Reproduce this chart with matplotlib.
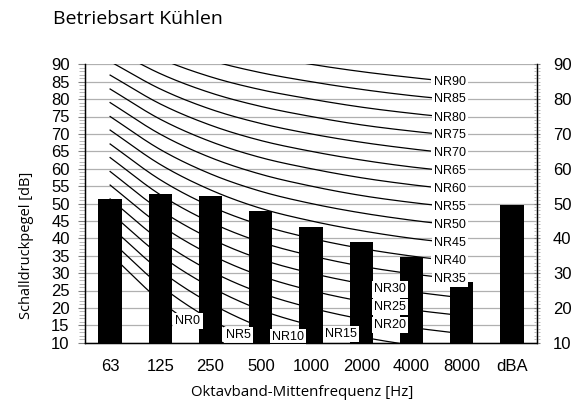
import numpy as np
import matplotlib
matplotlib.use("Agg")
import matplotlib.pyplot as plt
from matplotlib.ticker import MultipleLocator

# ---- data ----
categories = ["63", "125", "250", "500", "1000", "2000", "4000", "8000", "dBA"]
levels = [51.2, 52.7, 52.2, 47.8, 43.3, 38.8, 34.7, 27.4, 49.5]

nr_names = ["NR0", "NR5", "NR10", "NR15", "NR20", "NR25", "NR30", "NR35", "NR40",
            "NR45", "NR50", "NR55", "NR60", "NR65", "NR70", "NR75", "NR80", "NR85", "NR90"]
# NR curve values at 63 ... 8000 Hz
nr0 = [35.5, 22.0, 12.0, 4.8, 0.0, -3.5, -6.1, -8.0]
nr5 = [39.5, 26.4, 16.7, 9.7, 5.0, 1.6, -1.0, -2.9]
nr10 = [43.4, 30.7, 21.3, 14.5, 10.0, 6.7, 4.2, 2.3]
nr15 = [47.4, 35.1, 26.0, 19.4, 15.0, 11.7, 9.3, 7.5]
nr20 = [51.3, 39.4, 30.6, 24.3, 20.0, 16.8, 14.4, 12.6]
nr25 = [55.3, 43.8, 35.3, 29.2, 25.0, 21.9, 19.5, 17.8]
nr30 = [59.2, 48.1, 39.9, 34.0, 30.0, 27.0, 24.7, 22.9]
nr35 = [63.2, 52.5, 44.6, 38.9, 35.0, 32.0, 29.8, 28.1]
nr40 = [67.1, 56.8, 49.2, 43.8, 40.0, 37.1, 34.9, 33.2]
nr45 = [71.1, 61.2, 53.9, 48.6, 45.0, 42.2, 40.0, 38.4]
nr50 = [75.0, 65.5, 58.5, 53.5, 50.0, 47.3, 45.2, 43.5]
nr55 = [79.0, 69.9, 63.2, 58.4, 55.0, 52.3, 50.3, 48.7]
nr60 = [82.9, 74.2, 67.8, 63.2, 60.0, 57.4, 55.4, 53.8]
nr65 = [86.9, 78.6, 72.5, 68.1, 65.0, 62.5, 60.5, 59.0]
nr70 = [90.8, 82.9, 77.1, 73.0, 70.0, 67.6, 65.7, 64.1]
nr75 = [94.8, 87.3, 81.8, 77.9, 75.0, 72.6, 70.8, 69.3]
nr80 = [98.7, 91.6, 86.4, 82.7, 80.0, 77.7, 75.9, 74.4]
nr85 = [102.7, 96.0, 91.1, 87.6, 85.0, 82.8, 81.0, 79.6]
nr90 = [106.6, 100.3, 95.7, 92.5, 90.0, 87.9, 86.2, 84.7]
nr_curves = [nr0, nr5, nr10, nr15, nr20, nr25, nr30, nr35, nr40, nr45,
             nr50, nr55, nr60, nr65, nr70, nr75, nr80, nr85, nr90]

# label anchor positions (x index, y value) for the labels that sit low in the plot
low_label_pos = {"NR0": (1.55, 16.3), "NR5": (2.56, 12.2), "NR10": (3.54, 11.7),
                 "NR15": (4.59, 12.5), "NR20": (5.58, 15.0), "NR25": (5.58, 20.3),
                 "NR30": (5.58, 25.3)}

title = "Betriebsart Kühlen"
xlabel = "Oktavband-Mittenfrequenz [Hz]"
ylabel = "Schalldruckpegel [dB]"


def smooth(xs, ys, n=30):
    """Catmull-Rom rendering of a polyline (Excel-style smoothed line)."""
    xs = np.asarray(xs, float)
    ys = np.asarray(ys, float)
    px = np.concatenate([[2 * xs[0] - xs[1]], xs, [2 * xs[-1] - xs[-2]]])
    py = np.concatenate([[2 * ys[0] - ys[1]], ys, [2 * ys[-1] - ys[-2]]])
    ox, oy = [], []
    t = np.linspace(0, 1, n, endpoint=False)
    for i in range(1, len(px) - 2):
        p0, p1, p2, p3 = (np.array([px[j], py[j]]) for j in (i - 1, i, i + 1, i + 2))
        b1 = p1 + (p2 - p0) / 6
        b2 = p2 - (p3 - p1) / 6
        pts = ((1 - t)[:, None] ** 3 * p1 + 3 * (1 - t)[:, None] ** 2 * t[:, None] * b1
               + 3 * (1 - t)[:, None] * t[:, None] ** 2 * b2 + t[:, None] ** 3 * p2)
        ox.extend(pts[:, 0]); oy.extend(pts[:, 1])
    ox.append(xs[-1]); oy.append(ys[-1])
    return np.array(ox), np.array(oy)


plt.rcParams["font.family"] = ["Liberation Sans", "DejaVu Sans"]
fig = plt.figure(figsize=(5.73, 4.05), dpi=100)
ax = fig.add_axes([85 / 573, 1 - 342.7 / 405, 452 / 573, 278.4 / 405])

x = np.arange(len(categories))
ax.bar(x, levels, width=0.465, color="black", zorder=3)

xf = np.arange(8)
for name, vals in zip(nr_names, nr_curves):
    sx, sy = smooth(xf, vals)
    ax.plot(sx, sy, color="black", lw=0.9, zorder=2)
    if name in low_label_pos:
        lx, ly = low_label_pos[name]
    else:
        lx, ly = 6.76, vals[-1] + 0.3
    ax.text(lx, ly, name, fontsize=9, ha="center", va="center", zorder=5,
            bbox=dict(facecolor="white", edgecolor="none", pad=1.5))

ax.set_xlim(-0.5, 8.5)
ax.set_ylim(10, 90)
ax.set_xticks(x)
ax.set_xticklabels(categories, fontsize=12)
ax.tick_params(axis="x", length=0, pad=12)
ax.yaxis.set_major_locator(MultipleLocator(5))
ax.yaxis.set_minor_locator(MultipleLocator(1))
ax.tick_params(axis="y", which="major", labelsize=12, length=5, color="#808080", pad=6)
ax.tick_params(axis="y", which="minor", length=4, color="#b0b0b0", width=0.6)
ax.grid(axis="y", which="major", color="#b0b0b0", lw=0.9, zorder=0)
ax.set_axisbelow(True)
ax.spines["top"].set_visible(False)
for s in ["left", "bottom", "right"]:
    ax.spines[s].set_color("black")
    ax.spines[s].set_linewidth(1.0)

ax2 = ax.twinx()
ax2.set_ylim(10, 90)
ax2.yaxis.set_major_locator(MultipleLocator(10))
ax2.yaxis.set_minor_locator(MultipleLocator(1))
ax2.tick_params(axis="y", which="major", labelsize=12, length=5, direction="inout",
                color="#808080", pad=9)
ax2.tick_params(axis="y", which="minor", length=4, direction="inout", color="#b0b0b0", width=0.6)
ax2.spines["top"].set_visible(False)

fig.text(53 / 573, 1 - 19 / 405, title, fontsize=14, family="Open Sans", va="center", ha="left")
fig.text(302 / 573, 1 - 392 / 405, xlabel, fontsize=10.8, family="Open Sans", va="center", ha="center")
fig.text(27 / 573, 1 - 245 / 405, ylabel, fontsize=10.5, family="Open Sans", va="center",
         ha="center", rotation=90)

fig.savefig("out.png", dpi=100)
